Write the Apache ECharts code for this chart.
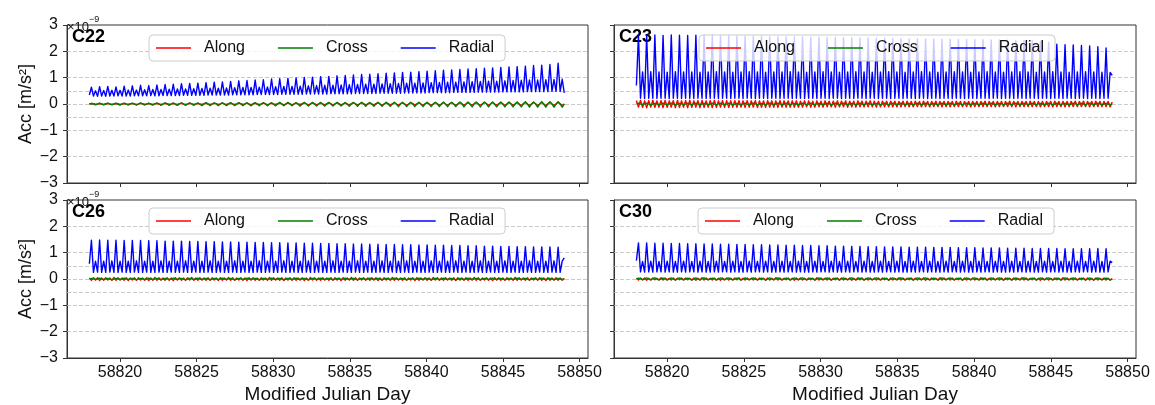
<!DOCTYPE html>
<html>
<head>
<meta charset="utf-8">
<script src="https://cdn.jsdelivr.net/npm/echarts@6/dist/echarts.min.js"></script>
<style>
html,body{margin:0;padding:0;background:#fff;}
#chart{width:1155px;height:405px;}
</style>
</head>
<body>
<div id="chart"></div>
<script>
// ---------------- data (units: 1e-9 m/s^2) ----------------
const PANELS = ['C22', 'C23', 'C26', 'C30'];
const SERIES_NAMES = ['Along', 'Cross', 'Radial'];
const MJD_FIRST = 58818.0;   // first epoch
const MJD_LAST = 58849.0;    // last epoch
const X_TICKS = [58820, 58825, 58830, 58835, 58840, 58845, 58850];
const Y_TICKS = [-3, -2, -1, 0, 1, 2, 3];
const GRID_LEVELS = [2, 1, 0.5, 0, -0.5, -1, -2];

const C22_RADIAL = [
.34,.64,.30,.50,.29,.66,.30,.51,
.29,.67,.30,.52,.30,.65,.31,.52,
.30,.68,.30,.53,.30,.69,.31,.53,
.31,.71,.31,.54,.31,.70,.32,.55,
.31,.72,.31,.55,.32,.74,.32,.56,
.32,.75,.32,.57,.32,.77,.33,.57,
.33,.78,.33,.58,.33,.79,.33,.59,
.33,.81,.34,.60,.34,.83,.34,.60,
.34,.84,.34,.61,.34,.86,.35,.62,
.35,.88,.35,.63,.35,.89,.35,.63,
.35,.91,.36,.64,.36,.92,.36,.65,
.36,.95,.36,.66,.36,.96,.37,.67,
.37,.97,.37,.67,.37,.99,.37,.68,
.37,1.01,.38,.69,.38,1.02,.38,.70,
.38,1.04,.38,.71,.38,1.05,.39,.71,
.39,1.07,.39,.72,.39,1.08,.39,.73,
.39,1.10,.40,.74,.40,1.12,.40,.75,
.40,1.13,.40,.75,.40,1.15,.41,.76,
.41,1.17,.41,.77,.41,1.18,.41,.78,
.41,1.20,.42,.79,.42,1.21,.42,.79,
.42,1.23,.42,.80,.42,1.25,.43,.81,
.43,1.26,.43,.82,.43,1.28,.43,.83,
.43,1.29,.44,.83,.44,1.31,.44,.84,
.44,1.33,.44,.85,.44,1.34,.45,.86,
.45,1.36,.45,.87,.45,1.37,.45,.87,
.45,1.39,.46,.88,.46,1.41,.46,.89,
.46,1.42,.46,.90,.46,1.44,.47,.91,
.47,1.46,.47,.91,.47,1.47,.47,.92,
.47,1.50,.48,.93,.48,1.55,.48,.94,
.42];
const C22_ALONG = [
.00,.02,.01,-.01,.00,.02,.00,-.02,
.01,.02,.00,-.01,.00,.02,.01,-.02,
.00,.02,.00,-.01,.01,.02,.00,-.02,
.00,.03,.01,-.01,.00,.02,.00,-.02,
.01,.02,.00,-.02,.00,.03,.01,-.01,
.00,.02,.00,-.02,.01,.03,.00,-.02,
.00,.03,.01,-.02,.00,.02,.00,-.02,
.01,.03,.00,-.02,.00,.03,.01,-.02,
.00,.03,.00,-.02,.01,.03,.00,-.02,
.00,.03,.01,-.02,.00,.03,.00,-.03,
.01,.03,.00,-.02,.00,.03,.01,-.03,
.00,.03,.00,-.02,.01,.04,.00,-.03,
.00,.03,.01,-.03,.00,.04,.00,-.02,
.01,.04,.00,-.03,.00,.03,.01,-.03,
.00,.04,.00,-.03,.01,.04,.00,-.03,
.00,.04,.01,-.03,.00,.04,.00,-.03,
.01,.04,.00,-.03,.00,.04,.01,-.03,
.00,.04,.00,-.03,.01,.04,.00,-.04,
.00,.04,.01,-.03,.00,.05,.00,-.04,
.01,.04,.00,-.04,.00,.05,.01,-.03,
.00,.05,.00,-.04,.01,.04,.00,-.04,
.00,.05,.01,-.04,.00,.05,.00,-.04,
.01,.05,.00,-.04,.00,.05,.01,-.04,
.00,.05,.00,-.04,.01,.05,.00,-.04,
.00,.05,.01,-.04,.00,.06,.00,-.04,
.01,.05,.00,-.05,.00,.06,.01,-.04,
.00,.06,.00,-.05,.01,.05,.00,-.05,
.00,.06,.01,-.05,.00,.06,.00,-.05,
.01,.06,.00,-.05,.00,.06,.01,-.05,
.00];
const C22_CROSS = [
.00,.02,.00,-.03,.00,.03,.00,-.03,
.00,.03,.00,-.03,.00,.03,-.01,-.04,
.00,.03,.00,-.04,.00,.03,.00,-.04,
.00,.04,.00,-.04,.00,.03,-.01,-.04,
.00,.04,.00,-.05,.00,.04,.00,-.05,
.00,.04,-.01,-.05,.00,.04,.00,-.05,
.00,.04,.00,-.05,.00,.04,-.01,-.06,
.00,.05,.00,-.06,.00,.04,.00,-.06,
.00,.05,-.01,-.06,.00,.05,.00,-.06,
.00,.05,.00,-.06,.00,.05,-.01,-.07,
.00,.05,.00,-.07,.00,.05,.00,-.07,
.00,.05,-.01,-.07,.00,.06,.00,-.07,
.00,.06,.00,-.07,.00,.05,-.01,-.08,
.00,.06,.00,-.08,.00,.06,.00,-.08,
.00,.06,-.01,-.08,.00,.06,.00,-.08,
.00,.06,.00,-.08,.00,.06,-.01,-.09,
.00,.06,.00,-.09,.00,.07,.00,-.09,
.00,.06,-.01,-.09,.00,.07,.00,-.09,
.00,.07,.00,-.09,.00,.07,-.01,-.10,
.00,.07,.00,-.10,.00,.07,.00,-.10,
.00,.07,-.01,-.10,.00,.07,.00,-.10,
.00,.07,.00,-.10,.00,.08,-.01,-.10,
.00,.07,.00,-.10,.00,.08,.00,-.11,
.00,.08,-.01,-.11,.00,.08,.00,-.11,
.00,.08,.00,-.11,.00,.08,-.01,-.11,
.00,.08,.00,-.11,.00,.08,.00,-.11,
.00,.08,-.01,-.11,.00,.09,.00,-.12,
.00,.08,.00,-.12,.00,.09,-.01,-.12,
.00,.09,.00,-.12,.00,.09,.00,-.12,
.00];

const C23_RADIAL = [
.70,2.62,.22,1.22,.21,2.61,.22,1.23,
.22,2.62,.21,1.22,.22,2.60,.22,1.21,
.21,2.62,.22,1.23,.22,2.61,.21,1.22,
.22,2.60,.22,1.22,.21,2.61,.22,1.21,
.22,2.60,.21,1.22,.22,2.60,.22,1.23,
.21,2.59,.22,1.22,.22,2.59,.21,1.21,
.22,2.58,.22,1.22,.21,2.58,.22,1.23,
.22,2.57,.21,1.22,.22,2.57,.22,1.21,
.21,2.56,.22,1.22,.22,2.56,.21,1.22,
.22,2.55,.22,1.23,.21,2.55,.22,1.22,
.22,2.55,.21,1.21,.22,2.54,.22,1.22,
.21,2.54,.22,1.23,.22,2.53,.21,1.22,
.22,2.53,.22,1.21,.21,2.52,.22,1.22,
.22,2.52,.21,1.23,.22,2.51,.22,1.22,
.21,2.51,.22,1.21,.22,2.50,.21,1.22,
.22,2.50,.22,1.23,.21,2.49,.22,1.22,
.22,2.49,.21,1.21,.22,2.48,.22,1.22,
.21,2.48,.22,1.23,.22,2.47,.21,1.22,
.22,2.47,.22,1.21,.21,2.46,.22,1.22,
.22,2.46,.21,1.23,.22,2.45,.22,1.22,
.21,2.45,.22,1.21,.22,2.44,.21,1.22,
.22,2.44,.22,1.23,.21,2.43,.22,1.22,
.22,2.43,.21,1.21,.22,2.42,.22,1.22,
.21,2.42,.22,1.23,.22,2.41,.21,1.22,
.22,2.40,.22,1.21,.21,2.38,.22,1.22,
.22,2.35,.21,1.23,.22,2.27,.22,1.22,
.21,2.25,.22,1.21,.22,2.24,.21,1.22,
.22,2.22,.22,1.23,.21,2.20,.22,1.22,
.22,2.18,.21,1.21,.22,2.13,.22,1.20,
1.09];
const C23_ALONG = [
.13,-.12,.14,-.13,.12,-.14,.13,-.12,
.14,-.13,.12,-.12,.13,-.14,.14,-.13,
.12,-.12,.13,-.14,.14,-.13,.12,-.12,
.13,-.14,.14,-.13,.12,-.12,.13,-.14,
.14,-.13,.12,-.12,.13,-.14,.14,-.13,
.12,-.12,.13,-.13,.13,-.13,.12,-.12,
.13,-.13,.13,-.12,.12,-.13,.13,-.12,
.12,-.12,.13,-.13,.12,-.12,.12,-.13,
.13,-.12,.12,-.12,.12,-.13,.13,-.12,
.12,-.12,.12,-.12,.12,-.12,.12,-.12,
.11,-.12,.12,-.11,.12,-.12,.11,-.12,
.12,-.11,.11,-.12,.12,-.11,.11,-.11,
.11,-.12,.12,-.11,.11,-.11,.12,-.12,
.11,-.11,.11,-.12,.12,-.11,.11,-.11,
.11,-.11,.12,-.11,.11,-.12,.11,-.11,
.11,-.11,.11,-.11,.11,-.11,.11,-.11,
.10,-.11,.11,-.10,.11,-.11,.10,-.11,
.11,-.10,.10,-.11,.11,-.10,.10,-.11,
.10,-.10,.11,-.10,.10,-.11,.10,-.10,
.10,-.11,.10,-.10,.11,-.10,.10,-.10,
.10,-.10,.10,-.11,.10,-.10,.10,-.10,
.10,-.10,.11,-.10,.10,-.10,.10,-.11,
.10,-.10,.10,-.10,.10,-.10,.11,-.10,
.10,-.11,.10,-.10,.10,-.10,.10,-.10,
.11,-.10,.10,-.10,.10,-.11,.10,-.10,
.10,-.10,.10,-.11,.11,-.10,.10,-.10,
.10,-.11,.10,-.10,.10,-.10,.11,-.10,
.10,-.10,.11,-.10,.10,-.11,.10,-.10,
.11,-.10,.10,-.10,.10,-.10,.10,-.11,
.08];
const C23_CROSS = [
.00,.03,.00,-.02,.01,.03,.00,-.03,
.00,.02,.01,-.03,.00,.03,.00,-.02,
.01,.03,.00,-.03,.00,.02,.01,-.02,
.00,.03,.00,-.03,.01,.03,.00,-.02,
.00,.02,.01,-.03,.00,.03,.00,-.03,
.01,.03,.00,-.02,.00,.03,.01,-.03,
.00,.02,.00,-.03,.01,.03,.00,-.02,
.00,.03,.01,-.03,.00,.02,.00,-.03,
.01,.03,.00,-.02,.00,.03,.01,-.03,
.00,.03,.00,-.03,.01,.02,.00,-.02,
.00,.03,.01,-.03,.00,.03,.00,-.03,
.01,.02,.00,-.02,.00,.03,.01,-.03,
.00,.03,.00,-.03,.01,.03,.00,-.02,
.00,.02,.01,-.03,.00,.03,.00,-.03,
.01,.03,.00,-.02,.00,.02,.01,-.03,
.00,.03,.00,-.03,.01,.03,.00,-.02,
.00,.03,.01,-.03,.00,.02,.00,-.03,
.01,.03,.00,-.02,.00,.03,.01,-.03,
.00,.02,.00,-.03,.01,.03,.00,-.02,
.00,.03,.01,-.03,.00,.03,.00,-.03,
.01,.03,.00,-.02,.00,.02,.01,-.03,
.00,.03,.00,-.03,.01,.03,.00,-.02,
.00,.02,.01,-.03,.00,.03,.00,-.03,
.01,.03,.00,-.02,.00,.03,.01,-.03,
.00,.03,.00,-.03,.01,.02,.00,-.02,
.00,.03,.01,-.03,.00,.03,.00,-.03,
.01,.02,.00,-.02,.00,.03,.01,-.03,
.00,.03,.00,-.03,.01,.03,.00,-.02,
.00,.03,.01,-.03,.00,.02,.00,-.03,
.01];

const C26_RADIAL = [
.58,1.47,.25,.68,.26,1.48,.25,.68,
.25,1.47,.26,.69,.25,1.47,.25,.68,
.26,1.46,.25,.68,.25,1.46,.26,.69,
.25,1.46,.25,.68,.26,1.45,.25,.68,
.25,1.45,.26,.69,.25,1.44,.25,.68,
.26,1.44,.25,.68,.25,1.44,.26,.69,
.25,1.43,.25,.68,.26,1.43,.25,.68,
.25,1.42,.26,.69,.25,1.42,.25,.68,
.26,1.41,.25,.68,.25,1.41,.26,.69,
.25,1.40,.25,.68,.26,1.40,.25,.68,
.25,1.39,.26,.69,.25,1.39,.25,.68,
.26,1.38,.25,.68,.25,1.38,.26,.69,
.25,1.37,.25,.68,.26,1.37,.25,.68,
.25,1.36,.26,.69,.25,1.36,.25,.68,
.26,1.35,.25,.68,.25,1.35,.26,.69,
.25,1.34,.25,.68,.26,1.34,.25,.68,
.25,1.33,.26,.69,.25,1.33,.25,.68,
.26,1.32,.25,.68,.25,1.32,.26,.69,
.25,1.31,.25,.68,.26,1.31,.25,.68,
.25,1.30,.26,.69,.25,1.30,.25,.68,
.26,1.29,.25,.68,.25,1.29,.26,.69,
.25,1.28,.25,.68,.26,1.28,.25,.68,
.25,1.27,.26,.69,.25,1.27,.25,.68,
.26,1.26,.25,.68,.25,1.26,.26,.69,
.25,1.25,.25,.68,.26,1.25,.25,.68,
.25,1.24,.26,.69,.25,1.24,.25,.68,
.26,1.23,.25,.68,.25,1.23,.26,.69,
.25,1.22,.25,.68,.26,1.22,.25,.68,
.25,1.22,.26,.69,.25,1.21,.25,.68,
.80];
const C26_ALONG = [
.04,-.05,.05,-.04,.05,-.06,.04,-.05,
.05,-.04,.04,-.05,.06,-.05,.05,-.04,
.04,-.05,.05,-.06,.04,-.04,.05,-.05,
.05,-.04,.04,-.05,.05,-.06,.04,-.05,
.06,-.05,.05,-.04,.04,-.05,.05,-.05,
.04,-.06,.05,-.04,.05,-.05,.04,-.05,
.05,-.04,.06,-.05,.04,-.05,.05,-.04,
.04,-.05,.05,-.05,.05,-.04,.04,-.06,
.05,-.05,.04,-.04,.06,-.05,.05,-.05,
.04,-.04,.05,-.05,.04,-.06,.05,-.04,
.05,-.05,.04,-.05,.05,-.04,.04,-.05,
.06,-.05,.05,-.04,.04,-.05,.05,-.06,
.04,-.04,.05,-.05,.05,-.05,.04,-.04,
.05,-.06,.04,-.05,.06,-.04,.05,-.05,
.04,-.05,.05,-.04,.04,-.05,.05,-.05,
.05,-.04,.04,-.06,.05,-.05,.04,-.04,
.06,-.05,.05,-.05,.04,-.04,.05,-.05,
.04,-.05,.05,-.04,.05,-.06,.04,-.05,
.05,-.04,.04,-.05,.06,-.05,.05,-.04,
.04,-.05,.05,-.05,.04,-.04,.05,-.06,
.05,-.05,.04,-.04,.05,-.05,.04,-.05,
.06,-.04,.05,-.05,.04,-.05,.05,-.04,
.04,-.05,.05,-.06,.05,-.04,.04,-.05,
.05,-.05,.04,-.04,.06,-.05,.05,-.05,
.04,-.04,.05,-.05,.04,-.06,.05,-.04,
.05,-.05,.04,-.05,.05,-.04,.04,-.05,
.06,-.05,.05,-.04,.04,-.05,.05,-.05,
.04,-.04,.05,-.05,.05,-.05,.04,-.06,
.05,-.05,.04,-.04,.05,-.05,.04,-.05,
.03];
const C26_CROSS = [
.00,.02,.01,-.02,.00,.03,.00,-.02,
.01,.02,.00,-.03,.00,.02,.01,-.02,
.00,.03,.00,-.02,.01,.02,.00,-.03,
.00,.02,.01,-.02,.00,.03,.00,-.02,
.01,.02,.00,-.03,.00,.02,.01,-.02,
.00,.03,.00,-.02,.01,.02,.00,-.03,
.00,.02,.01,-.02,.00,.03,.00,-.02,
.01,.02,.00,-.03,.00,.02,.01,-.02,
.00,.03,.00,-.02,.01,.02,.00,-.03,
.00,.02,.01,-.02,.00,.03,.00,-.02,
.01,.02,.00,-.03,.00,.02,.01,-.02,
.00,.03,.00,-.02,.01,.02,.00,-.03,
.00,.02,.01,-.02,.00,.03,.00,-.02,
.01,.02,.00,-.03,.00,.02,.01,-.02,
.00,.03,.00,-.02,.01,.02,.00,-.03,
.00,.02,.01,-.02,.00,.03,.00,-.02,
.01,.02,.00,-.03,.00,.02,.01,-.02,
.00,.03,.00,-.02,.01,.02,.00,-.03,
.00,.02,.01,-.02,.00,.03,.00,-.02,
.01,.02,.00,-.03,.00,.02,.01,-.02,
.00,.03,.00,-.02,.01,.02,.00,-.03,
.00,.02,.01,-.02,.00,.03,.00,-.02,
.01,.02,.00,-.03,.00,.02,.01,-.02,
.00,.03,.00,-.02,.01,.02,.00,-.03,
.00,.02,.01,-.02,.00,.03,.00,-.02,
.01,.02,.00,-.03,.00,.02,.01,-.02,
.00,.03,.00,-.02,.01,.02,.00,-.03,
.00,.02,.01,-.02,.00,.03,.00,-.02,
.01,.02,.00,-.03,.00,.02,.01,-.02,
.00];

const C30_RADIAL = [
.70,1.37,.27,.67,.26,1.37,.27,.68,
.26,1.36,.27,.67,.27,1.36,.26,.68,
.27,1.35,.26,.67,.26,1.35,.27,.68,
.26,1.34,.27,.67,.27,1.34,.26,.68,
.27,1.33,.26,.67,.26,1.33,.27,.68,
.26,1.32,.27,.67,.27,1.32,.26,.68,
.27,1.31,.26,.67,.26,1.31,.27,.68,
.26,1.30,.27,.67,.27,1.30,.26,.68,
.27,1.29,.26,.67,.26,1.29,.27,.68,
.26,1.28,.27,.67,.27,1.28,.26,.68,
.27,1.27,.26,.67,.26,1.27,.27,.68,
.26,1.26,.27,.67,.27,1.26,.26,.68,
.27,1.25,.26,.67,.26,1.25,.27,.68,
.26,1.24,.27,.67,.27,1.24,.26,.68,
.27,1.23,.26,.67,.26,1.23,.27,.68,
.26,1.22,.27,.67,.27,1.22,.26,.68,
.27,1.22,.26,.67,.26,1.21,.27,.68,
.26,1.21,.27,.67,.27,1.21,.26,.68,
.27,1.20,.26,.67,.26,1.20,.27,.68,
.26,1.20,.27,.67,.27,1.19,.26,.68,
.27,1.19,.26,.67,.26,1.19,.27,.68,
.26,1.18,.27,.67,.27,1.18,.26,.68,
.27,1.18,.26,.67,.26,1.17,.27,.68,
.26,1.17,.27,.67,.27,1.17,.26,.68,
.27,1.16,.26,.67,.26,1.16,.27,.68,
.26,1.16,.27,.67,.27,1.16,.26,.68,
.27,1.15,.26,.67,.26,1.15,.27,.68,
.26,1.15,.27,.67,.27,1.15,.26,.68,
.27,1.16,.26,.67,.26,1.15,.27,.68,
.62];
const C30_ALONG = [
.03,-.04,.04,-.03,.04,-.05,.03,-.04,
.04,-.03,.03,-.04,.05,-.04,.04,-.03,
.03,-.04,.04,-.05,.03,-.03,.04,-.04,
.04,-.03,.03,-.04,.04,-.05,.03,-.04,
.05,-.04,.04,-.03,.03,-.04,.04,-.04,
.03,-.05,.04,-.03,.04,-.04,.03,-.04,
.04,-.03,.05,-.04,.03,-.04,.04,-.03,
.03,-.04,.04,-.04,.04,-.03,.03,-.05,
.04,-.04,.03,-.03,.05,-.04,.04,-.04,
.03,-.03,.04,-.04,.03,-.05,.04,-.03,
.04,-.04,.03,-.04,.04,-.03,.03,-.04,
.05,-.04,.04,-.03,.03,-.04,.04,-.05,
.03,-.03,.04,-.04,.04,-.04,.03,-.03,
.04,-.05,.03,-.04,.05,-.03,.04,-.04,
.03,-.04,.04,-.03,.03,-.04,.04,-.04,
.04,-.03,.03,-.05,.04,-.04,.03,-.03,
.05,-.04,.04,-.04,.03,-.03,.04,-.04,
.03,-.04,.04,-.03,.04,-.05,.03,-.04,
.04,-.03,.03,-.04,.05,-.04,.04,-.03,
.03,-.04,.04,-.04,.03,-.03,.04,-.05,
.04,-.04,.03,-.03,.04,-.04,.03,-.04,
.05,-.03,.04,-.04,.03,-.04,.04,-.03,
.03,-.04,.04,-.05,.04,-.03,.03,-.04,
.04,-.04,.03,-.03,.05,-.04,.04,-.04,
.03,-.03,.04,-.04,.03,-.05,.04,-.03,
.04,-.04,.03,-.04,.04,-.03,.03,-.04,
.05,-.04,.04,-.03,.03,-.04,.04,-.04,
.03,-.03,.04,-.04,.04,-.04,.03,-.05,
.04,-.04,.03,-.03,.04,-.04,.03,-.04,
.02];
const C30_CROSS = [
.00,.03,.01,-.03,.00,.04,.00,-.03,
.01,.04,.00,-.03,.00,.03,.01,-.04,
.00,.04,.00,-.03,.01,.04,.00,-.03,
.00,.03,.01,-.04,.00,.04,.00,-.03,
.01,.04,.00,-.03,.00,.03,.01,-.04,
.00,.04,.00,-.03,.01,.04,.00,-.03,
.00,.03,.01,-.04,.00,.04,.00,-.03,
.01,.04,.00,-.03,.00,.03,.01,-.04,
.00,.04,.00,-.03,.01,.04,.00,-.03,
.00,.03,.01,-.04,.00,.04,.00,-.03,
.01,.04,.00,-.03,.00,.03,.01,-.04,
.00,.04,.00,-.03,.01,.04,.00,-.03,
.00,.03,.01,-.04,.00,.04,.00,-.03,
.01,.04,.00,-.03,.00,.03,.01,-.04,
.00,.04,.00,-.03,.01,.04,.00,-.03,
.00,.03,.01,-.04,.00,.04,.00,-.03,
.01,.04,.00,-.03,.00,.03,.01,-.04,
.00,.04,.00,-.03,.01,.04,.00,-.03,
.00,.03,.01,-.04,.00,.04,.00,-.03,
.01,.04,.00,-.03,.00,.03,.01,-.04,
.00,.04,.00,-.03,.01,.04,.00,-.03,
.00,.03,.01,-.04,.00,.04,.00,-.03,
.01,.04,.00,-.03,.00,.03,.01,-.04,
.00,.04,.00,-.03,.01,.04,.00,-.03,
.00,.03,.01,-.04,.00,.04,.00,-.03,
.01,.04,.00,-.03,.00,.03,.01,-.04,
.00,.04,.00,-.03,.01,.04,.00,-.03,
.00,.03,.01,-.04,.00,.04,.00,-.03,
.01,.04,.00,-.03,.00,.03,.01,-.04,
.00];

const DATA = {
  C22: [C22_ALONG, C22_CROSS, C22_RADIAL],
  C23: [C23_ALONG, C23_CROSS, C23_RADIAL],
  C26: [C26_ALONG, C26_CROSS, C26_RADIAL],
  C30: [C30_ALONG, C30_CROSS, C30_RADIAL]
};

// ---------------- layout / style ----------------
const FONT = '"Liberation Sans", Arial, sans-serif';
const COLORS = ['#ff0000', '#008000', '#0000ff'];
const GRIDS = [
  {left: 67, top: 25, width: 521, height: 158},
  {left: 614, top: 25, width: 522, height: 158},
  {left: 67, top: 200, width: 521, height: 158},
  {left: 614, top: 200, width: 522, height: 158}
];
const X_MIN = 58816.54, X_MAX = 58850.55;

function toPairs(vals) {
  const step = (MJD_LAST - MJD_FIRST) / (vals.length - 1);
  return vals.map((v, i) => [MJD_FIRST + i * step, v]);
}
const minus = v => String(v).replace('-', '\u2212');
const plain = v => String(v);

const chart = echarts.init(document.getElementById('chart'), null, {renderer: 'canvas'});

const series = [];
PANELS.forEach((p, pi) => {
  DATA[p].forEach((vals, si) => {
    const s = {
      name: SERIES_NAMES[si], type: 'line', xAxisIndex: pi, yAxisIndex: pi,
      data: toPairs(vals), showSymbol: false, symbol: 'none', smooth: false,
      color: COLORS[si], lineStyle: {color: COLORS[si], width: 1.4, join: 'round'},
      emphasis: {disabled: true}, silent: true, z: 2 + si * 0.1
    };
    if (si === 0) {
      s.markLine = {
        silent: true, symbol: ['none', 'none'], z: 1, animation: false,
        label: {show: false},
        lineStyle: {color: '#bdbdbd', type: [4, 2], width: 0.8},
        data: GRID_LEVELS.map(v => ({yAxis: v}))
      };
    }
    series.push(s);
  });
});

const legends = [[149, 35], [699, 35], [149, 208], [698, 208]].map(pos => ({
  left: pos[0], top: pos[1], orient: 'horizontal',
  data: SERIES_NAMES, icon: 'rect', itemWidth: 35, itemHeight: 1.5, itemGap: 33,
  padding: [5, 11, 5, 7], borderColor: '#cccccc', borderWidth: 1, borderRadius: 4,
  backgroundColor: 'rgba(255,255,255,0.8)', selectedMode: false,
  textStyle: {fontSize: 16, color: '#111', fontFamily: FONT, padding: [0, 0, 0, 8]}
}));

const graphics = [];
PANELS.forEach((p, pi) => {
  const g = GRIDS[pi];
  graphics.push({type: 'text', left: g.left + 5, top: g.top + 3, silent: true,
    style: {text: p, font: 'bold 18px ' + FONT, fill: '#000'}});
});
[[67, 21], [67, 196]].forEach(([x, y]) => {
  graphics.push({type: 'text', x: x, y: y, silent: true,
    style: {text: '\u00d710', font: '13px ' + FONT, fill: '#111', verticalAlign: 'alphabetic'}});
  graphics.push({type: 'text', x: x + 22, y: y - 6, silent: true,
    style: {text: '\u22129', font: '9px ' + FONT, fill: '#111', verticalAlign: 'alphabetic'}});
});

const option = {
  animation: false,
  textStyle: {fontFamily: FONT},
  grid: GRIDS.map(g => Object.assign({show: true, borderColor: '#333', borderWidth: 1, backgroundColor: 'transparent'}, g)),
  xAxis: GRIDS.map((g, i) => ({
    gridIndex: i, type: 'value', min: X_MIN, max: X_MAX,
    axisLine: {show: true, onZero: false, lineStyle: {color: '#333', width: 1}},
    axisTick: {show: true, inside: false, length: 4, customValues: X_TICKS, lineStyle: {color: '#333'}},
    axisLabel: {show: i >= 2, customValues: X_TICKS, margin: 7, fontSize: 16, color: '#111', fontFamily: FONT, formatter: plain},
    splitLine: {show: false},
    name: i >= 2 ? 'Modified Julian Day' : '', nameLocation: 'middle', nameGap: 27,
    nameTextStyle: {fontSize: 19, color: '#111', fontFamily: FONT}
  })),
  yAxis: GRIDS.map((g, i) => ({
    gridIndex: i, type: 'value', min: -3, max: 3, interval: 1,
    axisLine: {show: true, onZero: false, lineStyle: {color: '#333', width: 1}},
    axisTick: {show: true, inside: false, length: 4, customValues: Y_TICKS, lineStyle: {color: '#333'}},
    axisLabel: {show: i % 2 === 0, customValues: Y_TICKS, margin: 9, fontSize: 16, color: '#111', fontFamily: FONT, formatter: minus},
    splitLine: {show: false},
    name: i % 2 === 0 ? 'Acc [m/s\u00b2]' : '', nameLocation: 'middle', nameGap: 32, nameRotate: 90,
    nameTextStyle: {fontSize: 18, color: '#111', fontFamily: FONT}
  })),
  legend: legends,
  graphic: graphics,
  series: series
};
chart.setOption(option);
</script>
</body>
</html>
